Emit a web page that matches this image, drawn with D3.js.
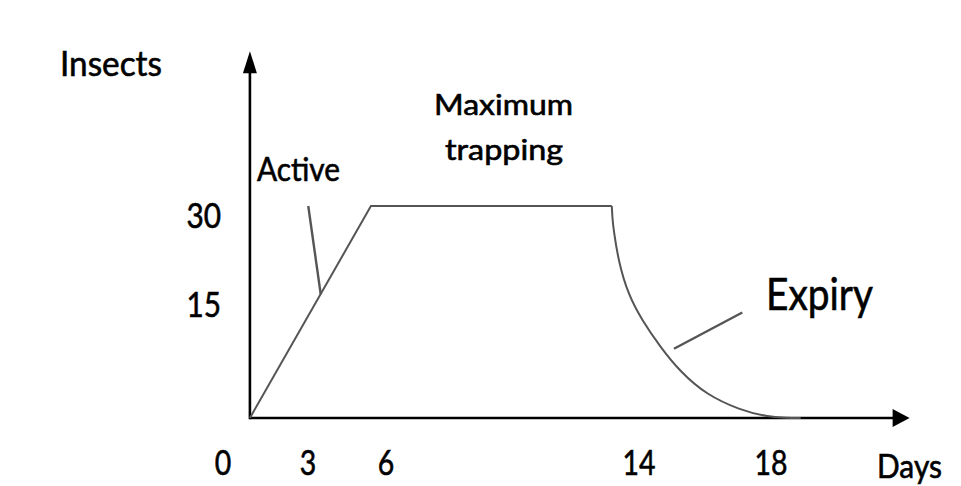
<!DOCTYPE html>
<html>
<head>
<meta charset="utf-8">
<script src="https://cdn.jsdelivr.net/npm/d3@7"></script>
<style>
  html, body { margin: 0; padding: 0; background: #ffffff; }
  text { font-family: Lato, "Open Sans", sans-serif; fill: #000000; stroke: #000000; stroke-width: 0.6; }
</style>
</head>
<body>
<svg id="chart" width="961" height="486"></svg>
<script>
// tick labels as printed on the diagram
const xTicks = [0, 3, 6, 14, 18];
const yTicks = [15, 30];

// trap catch curve (days, insects), read against the printed tick labels
const risePhase = [[0.95, 0], [5.42, 31.6], [13.14, 31.6]];
const expiryPhase = [
  [13.14, 31.6], [13.16, 29.5], [13.19, 27.85], [13.35, 22.26], [13.66, 16.68], [14.08, 13.0],
  [14.64, 9.43], [15.24, 6.15], [16.05, 3.05], [17.06, 1.06], [17.87, 0.17],
  [18.48, 0.02], [18.9, 0]
];

// callout leader lines (days, insects)
const activeLeader = [[3.01, 31.6], [3.49, 16.7]];
const expiryLeader = [[15.06, 9.16], [17.13, 13.94]];

const axisEnd = { days: 22.2, insects: 57.7 };
const axisTitles = ["Days", "Insects"];
const phaseLabels = ["Active", "Maximum", "trapping", "Expiry"];

var svg = d3.select("#chart");

// the drawing is a sketch, so the scales run piecewise through the printed ticks
var x = d3.scaleLinear().domain(xTicks).range([223, 308, 386, 639, 771]);
var y = d3.scaleLinear().domain([0, 15, 30]).range([418, 304.5, 215.5]);

var line = d3.line().x(d => x(d[0])).y(d => y(d[1]));

var ox = x(risePhase[0][0]), oy = y(0);
var xTip = x(axisEnd.days), yTip = y(axisEnd.insects);

// axes with arrow heads
var axes = svg.append("g").attr("class", "axes");
axes.append("line")
    .attr("x1", ox).attr("y1", oy).attr("x2", xTip - 16).attr("y2", oy)
    .attr("stroke", "#000").attr("stroke-width", 2.6);
axes.append("line")
    .attr("x1", ox).attr("y1", oy + 1.3).attr("x2", ox).attr("y2", yTip + 20)
    .attr("stroke", "#000").attr("stroke-width", 2.6);
axes.append("path")
    .attr("d", `M${xTip},${oy} L${xTip - 17},${oy - 9} L${xTip - 17},${oy + 9} Z`)
    .attr("fill", "#000");
axes.append("path")
    .attr("d", `M${ox},${yTip} L${ox - 7},${yTip + 22} L${ox + 7},${yTip + 22} Z`)
    .attr("fill", "#000");

// catch curve
svg.append("path")
   .attr("d", line(risePhase))
   .attr("fill", "none").attr("stroke", "#555").attr("stroke-width", 2);
svg.append("path")
   .attr("d", d3.line().x(d => x(d[0])).y(d => y(d[1])).curve(d3.curveBasis)(expiryPhase))
   .attr("fill", "none").attr("stroke", "#555").attr("stroke-width", 2);

// leader lines
svg.selectAll("line.leader")
   .data([activeLeader, expiryLeader])
   .join("line")
   .attr("class", "leader")
   .attr("x1", d => x(d[0][0])).attr("y1", d => y(d[0][1]))
   .attr("x2", d => x(d[1][0])).attr("y2", d => y(d[1][1]))
   .attr("stroke", "#555").attr("stroke-width", 2.4);

// tick labels
svg.selectAll("text.xtick")
   .data(xTicks)
   .join("text")
   .attr("class", "xtick")
   .attr("x", d => x(d)).attr("y", 475)
   .attr("text-anchor", "middle")
   .attr("font-size", 35)
   .attr("textLength", d => String(d).length * 16.5)
   .attr("lengthAdjust", "spacingAndGlyphs")
   .text(d => d);

svg.selectAll("text.ytick")
   .data(yTicks)
   .join("text")
   .attr("class", "ytick")
   .attr("x", 221).attr("y", d => y(d) + 12.5)
   .attr("text-anchor", "end")
   .attr("font-size", 35)
   .attr("textLength", d => String(d).length * 17.3)
   .attr("lengthAdjust", "spacingAndGlyphs")
   .text(d => d);

// titles and phase labels
var labelLayout = [
  { text: axisTitles[0], x: 877, y: 478, size: 32, len: 65 },
  { text: axisTitles[1], x: 60, y: 76, size: 35, len: 102 },
  { text: phaseLabels[0], x: 257, y: 181, size: 32, len: 83 },
  { text: phaseLabels[1], x: 434, y: 115, size: 28, len: 139 },
  { text: phaseLabels[2], x: 445, y: 160, size: 28, len: 118 },
  { text: phaseLabels[3], x: 766, y: 310, size: 45, len: 107 }
];

svg.selectAll("text.label")
   .data(labelLayout)
   .join("text")
   .attr("class", "label")
   .attr("x", d => d.x).attr("y", d => d.y)
   .attr("font-size", d => d.size)
   .attr("textLength", d => d.len)
   .attr("lengthAdjust", "spacingAndGlyphs")
   .text(d => d.text);
</script>
</body>
</html>
